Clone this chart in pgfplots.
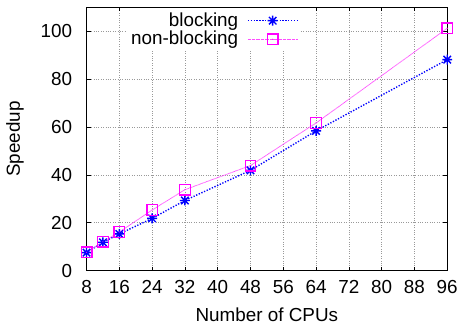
\documentclass[border=0pt]{standalone}
\usepackage{fontspec}
\setmainfont{Liberation Sans}
\usepackage{pgfplots}
\pgfplotsset{compat=1.18}
\definecolor{gpmag}{RGB}{255,0,255}
\definecolor{gpblue}{RGB}{0,0,255}
\pgfdeclareplotmark{gpstar}{%
  \pgfpathmoveto{\pgfqpoint{-\pgfplotmarksize}{0pt}}\pgfpathlineto{\pgfqpoint{\pgfplotmarksize}{0pt}}%
  \pgfpathmoveto{\pgfqpoint{0pt}{-\pgfplotmarksize}}\pgfpathlineto{\pgfqpoint{0pt}{\pgfplotmarksize}}%
  \pgfpathmoveto{\pgfqpoint{-0.75\pgfplotmarksize}{-0.75\pgfplotmarksize}}\pgfpathlineto{\pgfqpoint{0.75\pgfplotmarksize}{0.75\pgfplotmarksize}}%
  \pgfpathmoveto{\pgfqpoint{-0.75\pgfplotmarksize}{0.75\pgfplotmarksize}}\pgfpathlineto{\pgfqpoint{0.75\pgfplotmarksize}{-0.75\pgfplotmarksize}}%
  \pgfusepathqstroke}
\pgfdeclareplotmark{gpbox}{%
  \pgfpathrectangle{\pgfqpoint{-\pgfplotmarksize}{-\pgfplotmarksize}}{\pgfqpoint{2\pgfplotmarksize}{2\pgfplotmarksize}}%
  \pgfusepathqstroke
  \pgfpathcircle{\pgfqpoint{0pt}{0pt}}{0.6pt}\pgfusepathqfill}
\begin{document}
\fontsize{19}{22}\selectfont
\begin{tikzpicture}
\begin{axis}[
  scale only axis,
  width=362bp, height=264bp,
  xmin=8, xmax=96, ymin=0, ymax=110,
  xtick={8,16,...,96},
  ytick={0,20,...,100},
  /pgf/number format/assume math mode=true,
  tick label style={font=\fontsize{19}{22}\selectfont},
  label style={font=\fontsize{19}{22}\selectfont},
  xticklabel style={yshift=-3bp},
  yticklabel style={xshift=-8bp},
  xlabel={Number of CPUs},
  ylabel={Speedup},
  xlabel style={yshift=-2bp},
  ylabel style={yshift=4bp},
  grid=major,
  major grid style={gray!80, dotted, line width=0.7pt},
  axis line style={line width=1.2pt},
  tick style={black, line width=0.6pt},
  major tick length=4bp,
  tick align=inside,
  legend cell align=right,
  legend plot pos=right,
  legend style={at={(0.593,0.997)}, anchor=north east, draw=none, fill=white,
    font=\fontsize{19}{22}\selectfont, row sep=-2bp, inner sep=2bp},
  legend image code/.code={\draw[mark repeat=2,mark phase=2,#1] plot coordinates {(0,0) (0.88cm,0) (1.76cm,0)};},
]
\addplot[gpblue, line width=1.4pt, dash pattern=on 1.3pt off 1.6pt, mark=gpstar, mark size=5bp, mark options={solid, line width=1.4pt}]
 coordinates {(8,7.5) (12,11.8) (16,15.3) (24,21.8) (32,29.3) (48,41.9) (64,58.4) (96,88.2)};
\addlegendentry{blocking\rule{7bp}{0pt}}
\addplot[gpmag!70, line width=0.8pt, dash pattern=on 0.8pt off 0.5pt, mark=gpbox, mark size=5.3bp, mark options={gpmag, solid, line width=1.4pt}]
 coordinates {(8,7.6) (12,12.0) (16,16.1) (24,25.3) (32,33.8) (48,43.9) (64,61.7) (96,101.3)};
\addlegendentry{non-blocking\rule{7bp}{0pt}}
\end{axis}
\path (current axis.north) ++(0,7.5bp);
\end{tikzpicture}
\end{document}
